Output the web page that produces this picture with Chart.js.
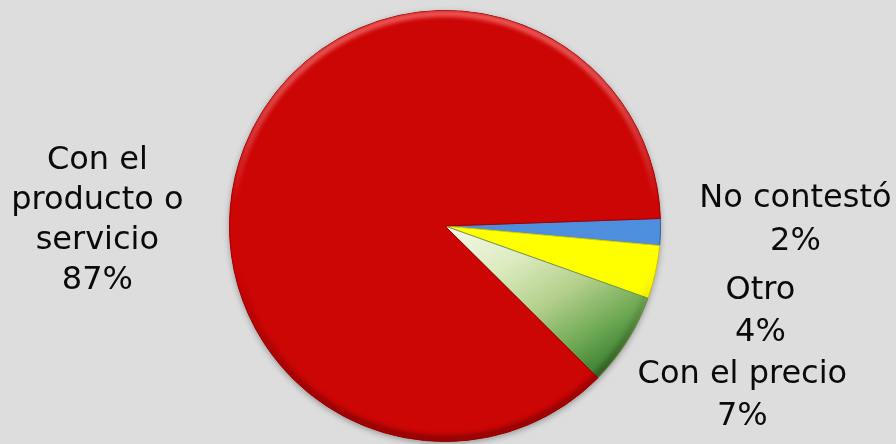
<!DOCTYPE html>
<html><head><meta charset="utf-8">
<script src="https://cdn.jsdelivr.net/npm/chart.js@4"></script>
<style>html,body{margin:0;padding:0;background:#dddddd;overflow:hidden}#wrap{width:896px;height:444px}</style>
</head><body><div id="wrap"><canvas id="c" width="896" height="444"></canvas></div>
<script>
// ---- data ----
const categories = ['No contestó', 'Otro', 'Con el precio', 'Con el producto o servicio'];
const values = [2, 4, 7, 87];
const labelLines = [['No contestó', '2%'], ['Otro', '4%'], ['Con el precio', '7%'], ['Con el', 'producto o', 'servicio', '87%']];

// ---- styles ----
const sliceColors = ['#4d8fdc', '#ffff00', 'GREEN_GRADIENT', '#cc0505'];
const sliceBorders = ['#2f66a8', '#d6cc00', '#6e9a50', '#a00000'];
// label placement relative to slice outer-edge midpoint: [dx, dy of first baseline, line height]
const labelOffsets = [[135, -25, 43], [105, 27, 42], [115, 42, 42], [-147, 22, 40]];

function greenFill(ctx) {
  const chart = ctx.chart, a = chart.chartArea;
  if (!a) return '#9cc46f';
  const cx = (a.left + a.right) / 2, cy = (a.top + a.bottom) / 2;
  const r = Math.min(a.right - a.left, a.bottom - a.top) / 2;
  const ang = 58 * Math.PI / 180;
  const g = chart.ctx.createLinearGradient(cx, cy, cx + r * Math.cos(ang), cy + r * Math.sin(ang));
  g.addColorStop(0, '#f6f9ec');
  g.addColorStop(0.3, '#dcebc0');
  g.addColorStop(0.55, '#b4d08c');
  g.addColorStop(0.78, '#6fa954');
  g.addColorStop(1, '#2c7428');
  return g;
}

const shadowPlugin = {
  id: 'shadow',
  beforeDatasetsDraw(chart) {
    const m = chart.getDatasetMeta(0).data[0];
    if (!m) return;
    const c = chart.ctx;
    c.save();
    c.shadowColor = 'rgba(0,0,0,0.35)';
    c.shadowBlur = 6;
    c.shadowOffsetY = 2;
    c.beginPath();
    c.arc(m.x, m.y, m.outerRadius, 0, Math.PI * 2);
    c.fillStyle = '#cc0505';
    c.fill();
    c.restore();
  },
  afterDatasetsDraw(chart) {
    const m = chart.getDatasetMeta(0).data[0];
    if (!m) return;
    const c = chart.ctx, r = m.outerRadius;
    c.save();
    c.beginPath();
    c.arc(m.x, m.y, r, 0, Math.PI * 2);
    c.clip();
    const g = c.createLinearGradient(0, m.y - r, 0, m.y + r);
    g.addColorStop(0, 'rgba(255,120,120,0.75)');
    g.addColorStop(0.45, 'rgba(255,255,255,0)');
    g.addColorStop(0.6, 'rgba(0,0,0,0)');
    g.addColorStop(1, 'rgba(60,0,0,0.45)');
    c.filter = 'blur(2px)';
    c.strokeStyle = g;
    c.lineWidth = 6;
    c.beginPath();
    c.arc(m.x, m.y, r - 3, 0, Math.PI * 2);
    c.stroke();
    c.restore();
  }
};

const labelPlugin = {
  id: 'outLabels',
  afterDraw(chart) {
    const c = chart.ctx;
    const arcs = chart.getDatasetMeta(0).data;
    c.save();
    c.font = '32px "DejaVu Sans"';
    c.fillStyle = '#0a0a0a';
    c.textAlign = 'center';
    c.textBaseline = 'alphabetic';
    arcs.forEach((arc, i) => {
      const mid = (arc.startAngle + arc.endAngle) / 2;
      const ex = arc.x + arc.outerRadius * Math.cos(mid);
      const ey = arc.y + arc.outerRadius * Math.sin(mid);
      const [dx, dy, lh] = labelOffsets[i];
      labelLines[i].forEach((t, k) => c.fillText(t, ex + dx, ey + dy + k * lh));
    });
    c.restore();
  }
};

new Chart(document.getElementById('c'), {
  type: 'pie',
  data: {
    labels: categories,
    datasets: [{
      data: values,
      backgroundColor: (ctx) => ctx.dataIndex === 2 ? greenFill(ctx) : sliceColors[ctx.dataIndex],
      borderColor: sliceBorders,
      borderWidth: 1
    }]
  },
  options: {
    responsive: false,
    animation: false,
    devicePixelRatio: 1,
    rotation: 88,
    layout: { padding: { left: 229, right: 235, top: 10, bottom: 2 } },
    plugins: { legend: { display: false }, tooltip: { enabled: false } }
  },
  plugins: [shadowPlugin, labelPlugin]
});
</script>
</body></html>
